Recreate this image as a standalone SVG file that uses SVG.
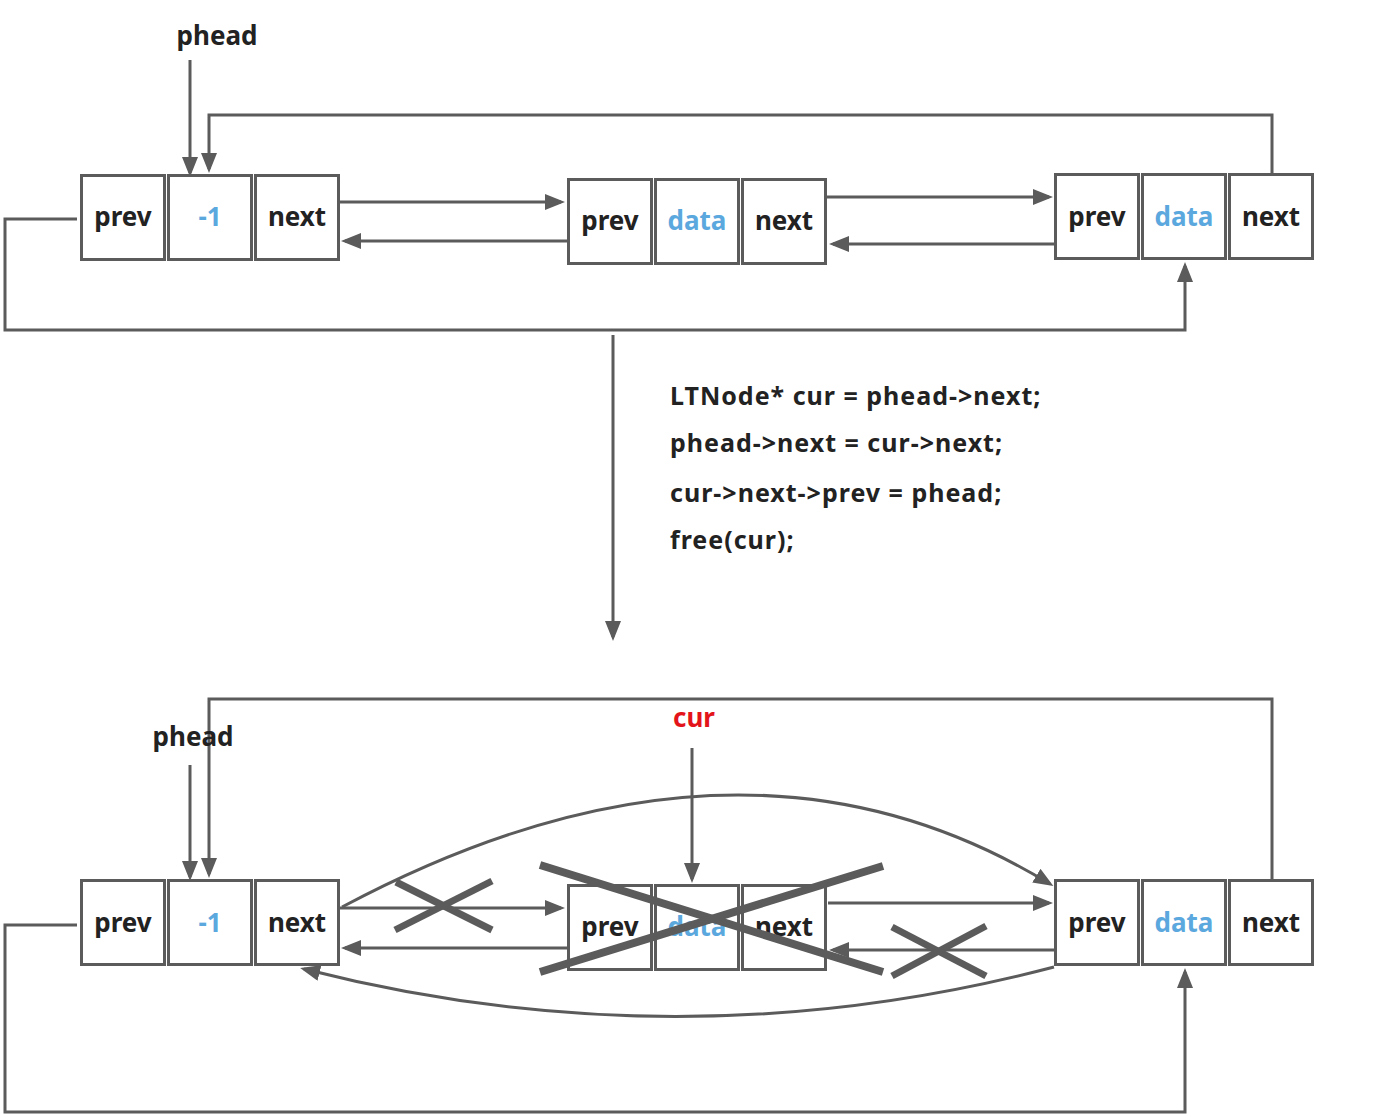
<svg xmlns="http://www.w3.org/2000/svg" width="1389" height="1116" viewBox="0 0 1389 1116">
<defs>
<style>
.cell{fill:#fff;stroke:#5b5b5b;stroke-width:3}
.t{font-family:"Noto Sans","Open Sans","DejaVu Sans",sans-serif;font-weight:bold;font-size:26px;fill:#222;text-anchor:middle}
.b{fill:#5ba8de}
.code{font-family:"Noto Sans","Open Sans","DejaVu Sans",sans-serif;font-weight:bold;font-size:25px;letter-spacing:1px;fill:#222}
.ln{fill:none;stroke:#5b5b5b;stroke-width:3;marker-end:url(#ah)}
.x{stroke:#5b5b5b;stroke-width:7}
.xb{stroke:#5b5b5b;stroke-width:8}
</style>
<marker id="ah" viewBox="0 0 20 16" refX="16" refY="8" markerWidth="20" markerHeight="16" markerUnits="userSpaceOnUse" orient="auto">
<path d="M0,0 L20,8 L0,16 z" fill="#5b5b5b"/>
</marker>
</defs>

<g id="connectors">
<line class="ln" x1="190" y1="60" x2="190" y2="173"/>
<polyline class="ln" points="1272,173 1272,115 209,115 209,169"/>
<polyline class="ln" points="77,219 5,219 5,330 1185,330 1185,266"/>
<line class="ln" x1="340" y1="202" x2="561" y2="202"/>
<line class="ln" x1="567" y1="241" x2="345" y2="241"/>
<line class="ln" x1="827" y1="197" x2="1049" y2="197"/>
<line class="ln" x1="1054" y1="244" x2="833" y2="244"/>
<line class="ln" x1="613" y1="335" x2="613" y2="637"/>
<line class="ln" x1="190" y1="765" x2="190" y2="877"/>
<polyline class="ln" points="1272,879 1272,699 209,699 209,874"/>
<polyline class="ln" points="77,925 5,925 5,1112 1185,1112 1185,972"/>
<line class="ln" x1="340" y1="908" x2="561" y2="908"/>
<line class="ln" x1="567" y1="948" x2="345" y2="948"/>
<line class="ln" x1="828" y1="903" x2="1049" y2="903"/>
<line class="ln" x1="1054" y1="950" x2="833" y2="950"/>
<line class="ln" x1="692" y1="748" x2="692" y2="879"/>
<path class="ln" d="M342,907 Q740,695 1050,884"/>
<path class="ln" d="M1054,967 Q680,1065 304,969"/>
</g>

<g id="labels">
<text class="t" x="217" y="45">phead</text>
<text class="t" x="193" y="746">phead</text>
<text class="t" x="694" y="727" style="fill:#e3151b">cur</text>
<text class="code" x="670" y="405">LTNode* cur = phead-&gt;next;</text>
<text class="code" x="670" y="452">phead-&gt;next = cur-&gt;next;</text>
<text class="code" x="670" y="502">cur-&gt;next-&gt;prev = phead;</text>
<text class="code" x="670" y="549">free(cur);</text>
</g>

<g id="top-head">
<rect class="cell" x="81.5" y="175.5" width="83" height="84"/>
<rect class="cell" x="168.5" y="175.5" width="83" height="84"/>
<rect class="cell" x="255.5" y="175.5" width="83" height="84"/>
<text class="t" x="123" y="226">prev</text>
<text class="t b" x="210" y="226">-1</text>
<text class="t" x="297" y="226">next</text>
</g>
<g id="top-node2">
<rect class="cell" x="568.5" y="179.5" width="83" height="84"/>
<rect class="cell" x="655.5" y="179.5" width="83" height="84"/>
<rect class="cell" x="742.5" y="179.5" width="83" height="84"/>
<text class="t" x="610" y="230">prev</text>
<text class="t b" x="697" y="230">data</text>
<text class="t" x="784" y="230">next</text>
</g>
<g id="top-node3">
<rect class="cell" x="1055.5" y="174.5" width="83" height="84"/>
<rect class="cell" x="1142.5" y="174.5" width="83" height="84"/>
<rect class="cell" x="1229.5" y="174.5" width="83" height="84"/>
<text class="t" x="1097" y="226">prev</text>
<text class="t b" x="1184" y="226">data</text>
<text class="t" x="1271" y="226">next</text>
</g>

<g id="bottom-head">
<rect class="cell" x="81.5" y="880.5" width="83" height="84"/>
<rect class="cell" x="168.5" y="880.5" width="83" height="84"/>
<rect class="cell" x="255.5" y="880.5" width="83" height="84"/>
<text class="t" x="123" y="932">prev</text>
<text class="t b" x="210" y="932">-1</text>
<text class="t" x="297" y="932">next</text>
</g>
<g id="bottom-node2">
<rect class="cell" x="568.5" y="885.5" width="83" height="84"/>
<rect class="cell" x="655.5" y="885.5" width="83" height="84"/>
<rect class="cell" x="742.5" y="885.5" width="83" height="84"/>
<text class="t" x="610" y="936">prev</text>
<text class="t b" x="697" y="936">data</text>
<text class="t" x="784" y="936">next</text>
</g>
<g id="bottom-node3">
<rect class="cell" x="1055.5" y="880.5" width="83" height="84"/>
<rect class="cell" x="1142.5" y="880.5" width="83" height="84"/>
<rect class="cell" x="1229.5" y="880.5" width="83" height="84"/>
<text class="t" x="1097" y="932">prev</text>
<text class="t b" x="1184" y="932">data</text>
<text class="t" x="1271" y="932">next</text>
</g>

<g id="crosses">
<line class="x" x1="396" y1="882" x2="492" y2="930"/>
<line class="x" x1="395" y1="930" x2="492" y2="881"/>
<line class="xb" x1="540" y1="865" x2="883" y2="972"/>
<line class="xb" x1="540" y1="972" x2="883" y2="866"/>
<line class="x" x1="892" y1="927" x2="986" y2="976"/>
<line class="x" x1="892" y1="976" x2="986" y2="926"/>
</g>
</svg>
